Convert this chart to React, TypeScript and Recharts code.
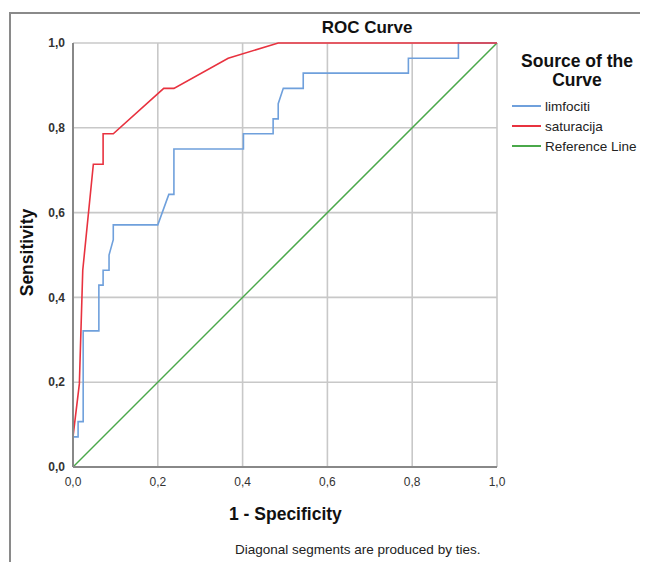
import { LineChart, Line, XAxis, YAxis, CartesianGrid } from 'recharts'

// 1 - specificity / sensitivity pairs
const limfocitiFpr = [0, 0, 0.012, 0.012, 0.024, 0.024, 0.061, 0.061, 0.071, 0.071, 0.085, 0.085, 0.095, 0.095, 0.2, 0.226, 0.238, 0.238, 0.402, 0.402, 0.472, 0.472, 0.484, 0.484, 0.496, 0.543, 0.543, 0.791, 0.791, 0.909, 0.909, 1]
const limfocitiTpr = [0, 0.071, 0.071, 0.107, 0.107, 0.321, 0.321, 0.429, 0.429, 0.464, 0.464, 0.5, 0.536, 0.571, 0.571, 0.643, 0.643, 0.75, 0.75, 0.786, 0.786, 0.821, 0.821, 0.857, 0.893, 0.893, 0.929, 0.929, 0.964, 0.964, 1, 1]

const saturacijaFpr = [0, 0, 0.015, 0.023, 0.048, 0.071, 0.071, 0.095, 0.214, 0.238, 0.366, 0.484, 1]
const saturacijaTpr = [0, 0.071, 0.196, 0.464, 0.714, 0.714, 0.786, 0.786, 0.893, 0.893, 0.964, 1, 1]

const referenceFpr = [0, 1]
const referenceTpr = [0, 1]

const TICKS = [0, 0.2, 0.4, 0.6, 0.8, 1]

const BLUE = '#6fa0dc'
const RED = '#e8323f'
const GREEN = '#4aa84a'
const FONT = '"Liberation Sans", Arial, sans-serif'

const toPoints = (xs: number[], ys: number[]) => xs.map((x, i) => ({ x, y: ys[i] }))

const limfociti = toPoints(limfocitiFpr, limfocitiTpr)
const saturacija = toPoints(saturacijaFpr, saturacijaTpr)
const reference = toPoints(referenceFpr, referenceTpr)

const fmt = (v: number) => v.toFixed(1).replace('.', ',')

const legendItems = [
  { name: 'limfociti', color: BLUE },
  { name: 'saturacija', color: RED },
  { name: 'Reference Line', color: GREEN },
]

export default function App() {
  return (
    <div style={{ position: 'relative', width: 640, height: 554, fontFamily: FONT, overflow: 'hidden' }}>
      <div
        style={{
          position: 'absolute',
          left: 1,
          top: 4,
          width: 660,
          height: 600,
          borderTop: '2px solid #8a8a8a',
          borderLeft: '2px solid #8a8a8a',
        }}
      />
      <div style={{ position: 'absolute', left: 0, top: 0 }}>
        <LineChart width={640} height={554} margin={{ top: 35, right: 151, bottom: 65, left: 0 }}>
          <CartesianGrid stroke="#c8c8c8" strokeWidth={1.6} />
          <XAxis
            type="number"
            dataKey="x"
            domain={[0, 1]}
            ticks={TICKS}
            tickFormatter={fmt}
            tickLine={false}
            axisLine={{ stroke: '#888888', strokeWidth: 2 }}
            height={30}
            tick={{ fontSize: 12, fill: '#333333', fontFamily: FONT, dy: 2 }}
            allowDuplicatedCategory={false}
          />
          <YAxis
            type="number"
            domain={[0, 1]}
            ticks={TICKS}
            tickFormatter={fmt}
            tickLine={false}
            axisLine={{ stroke: '#888888', strokeWidth: 2 }}
            width={65}
            tick={{ fontSize: 12, fill: '#333333', fontFamily: FONT, fontWeight: 'bold' }}
          />
          <Line data={reference} dataKey="y" type="linear" stroke={GREEN} strokeWidth={1.5} dot={false} isAnimationActive={false} />
          <Line data={limfociti} dataKey="y" type="linear" stroke={BLUE} strokeWidth={1.6} dot={false} isAnimationActive={false} />
          <Line data={saturacija} dataKey="y" type="linear" stroke={RED} strokeWidth={1.6} dot={false} isAnimationActive={false} />
        </LineChart>
      </div>

      <div style={{ position: 'absolute', left: 259, width: 200, top: 10, textAlign: 'center', fontSize: 17, fontWeight: 'bold', color: '#111' }}>
        ROC Curve
      </div>

      <div
        style={{
          position: 'absolute',
          left: 19 - 60,
          top: 245 - 11,
          width: 120,
          textAlign: 'center',
          transform: 'rotate(-90deg)',
          fontSize: 17.5,
          fontWeight: 'bold',
          color: '#111',
        }}
      >
        Sensitivity
      </div>

      <div style={{ position: 'absolute', left: 221, top: 496, fontSize: 17.5, fontWeight: 'bold', color: '#111' }}>
        1 - Specificity
      </div>

      <div style={{ position: 'absolute', left: 227, top: 534, fontSize: 13.5, color: '#222' }}>
        Diagonal segments are produced by ties.
      </div>

      <div style={{ position: 'absolute', left: 499, width: 140, top: 44, textAlign: 'center', fontSize: 17.5, fontWeight: 'bold', color: '#111', lineHeight: '19px' }}>
        Source of the
        <br />
        Curve
      </div>

      {legendItems.map((item, i) => (
        <div key={item.name} style={{ position: 'absolute', left: 504, top: 88 + i * 20, height: 20, display: 'flex', alignItems: 'center', fontSize: 13.5, color: '#222' }}>
          <span style={{ display: 'inline-block', width: 29, height: 2, background: item.color, marginRight: 4 }} />
          {item.name}
        </div>
      ))}
    </div>
  )
}
